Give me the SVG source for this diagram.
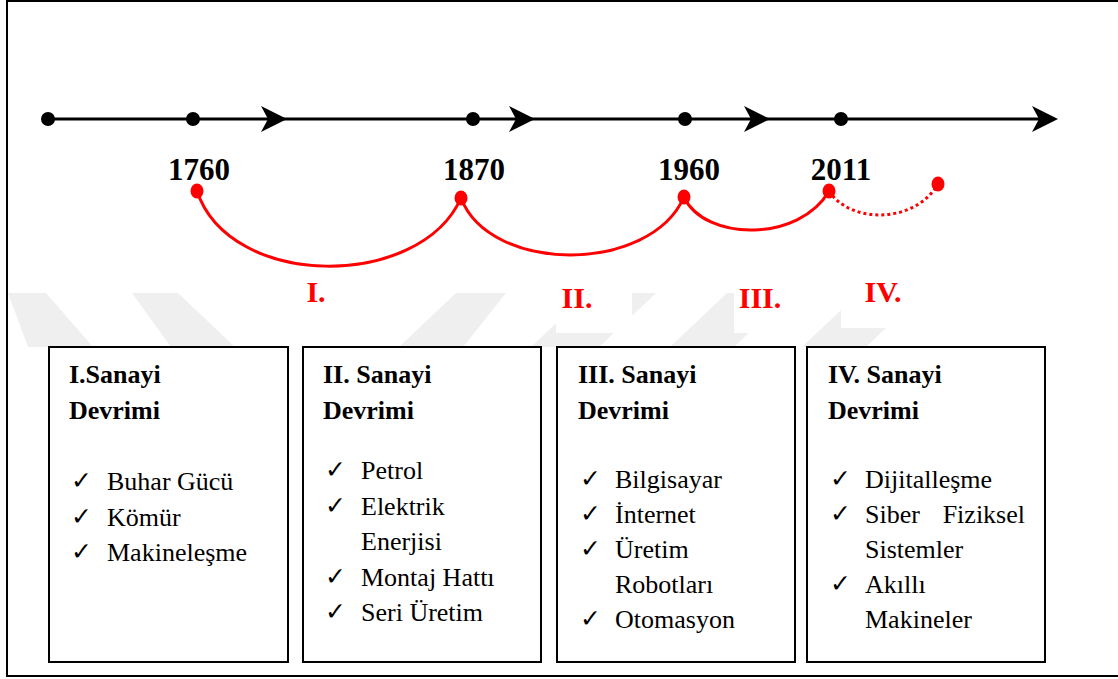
<svg xmlns="http://www.w3.org/2000/svg" width="1118" height="679" viewBox="0 0 1118 679">
<style>
.frame{fill:none;stroke:#000;stroke-width:2}
.wm{fill:#efefef}
.bg{fill:#fff}
.box{fill:#fff;stroke:#000;stroke-width:2}
.axis{stroke:#000;stroke-width:3;fill:none}
.dot{fill:#000}
.arrow{fill:#000}
.rdot{fill:#ff0000}
.arc{fill:none;stroke:#ff0000;stroke-width:3}
.dotted{stroke-dasharray:3 3}
.year{font-weight:bold;font-size:31px;fill:#000;text-anchor:middle}
.roman{font-weight:bold;font-size:30px;fill:#ff0000;text-anchor:middle}
.title{font-weight:bold;font-size:26px;fill:#000}
.item{font-size:26px;fill:#000}
.chk{font-size:25px;fill:#000}
</style>
<g id="watermark">
<polygon class="wm" points="8,293 46,293 93,347 28,347"/>
<polygon class="wm" points="132,293 178,293 235,347 171,347"/>
<polygon class="wm" points="399,347 463,347 506,293 456,293"/>
<polygon class="wm" points="531,347 599,347 656,293 588,293"/>
<polygon class="wm" points="670,347 734,347 791,293 727,293"/>
<polygon class="wm" points="802,347 866,347 923,293 859,293"/>
<rect class="bg" x="556" y="280" width="76" height="53"/>
<rect class="bg" x="734" y="280" width="56" height="53"/>
<rect class="bg" x="841" y="270" width="84" height="58"/>
</g>
<rect class="frame" x="7" y="1" width="1120" height="675"/>
<g font-family="'Liberation Serif','Times New Roman',Tinos,'DejaVu Serif',serif">
<g id="timeline">
<line class="axis" x1="48" y1="119" x2="1050" y2="119"/>
<circle class="dot" cx="48" cy="119" r="7"/>
<circle class="dot" cx="193" cy="119" r="7"/>
<circle class="dot" cx="473" cy="119" r="7"/>
<circle class="dot" cx="685" cy="119" r="7"/>
<circle class="dot" cx="841" cy="119" r="7"/>
<path class="arrow" d="M287,119 L261,106 L268,119 L261,132 Z"/>
<path class="arrow" d="M535,119 L509,106 L516,119 L509,132 Z"/>
<path class="arrow" d="M770,119 L744,106 L751,119 L744,132 Z"/>
<path class="arrow" d="M1058,119 L1032,106 L1039,119 L1032,132 Z"/>
<text class="year" x="199" y="180">1760</text>
<text class="year" x="474" y="180">1870</text>
<text class="year" x="689" y="180">1960</text>
<text class="year" x="841" y="180">2011</text>
</g>
<g id="connectors">
<path class="arc" d="M197,191 C230,290 420,290 461,198"/>
<path class="arc" d="M461,198 C490,274 650,274 684,197"/>
<path class="arc" d="M684,197 C705,242 800,242 829,191"/>
<path class="arc dotted" d="M829,191 C850,224 915,224 938,184"/>
<ellipse class="rdot" cx="197" cy="191" rx="6.5" ry="7.5"/>
<ellipse class="rdot" cx="461" cy="198" rx="6.5" ry="7.5"/>
<ellipse class="rdot" cx="684" cy="197" rx="6.5" ry="7.5"/>
<ellipse class="rdot" cx="829" cy="191" rx="6.5" ry="7.5"/>
<ellipse class="rdot" cx="938" cy="184" rx="6.5" ry="7.5"/>
<text class="roman" x="316" y="302">I.</text>
<text class="roman" x="577" y="308">II.</text>
<text class="roman" x="760" y="308">III.</text>
<text class="roman" x="883" y="302">IV.</text>
</g>
<g id="box1">
<rect class="box" x="49" y="347" width="239" height="315"/>
<text class="title" x="69" y="383">I.Sanayi</text>
<text class="title" x="69" y="419">Devrimi</text>
<text class="chk" x="71" y="489" font-family="'DejaVu Sans',sans-serif">✓</text><text class="item" x="107" y="490">Buhar Gücü</text>
<text class="chk" x="71" y="525" font-family="'DejaVu Sans',sans-serif">✓</text><text class="item" x="107" y="526">Kömür</text>
<text class="chk" x="71" y="560" font-family="'DejaVu Sans',sans-serif">✓</text><text class="item" x="107" y="561">Makineleşme</text>
</g>
<g id="box2">
<rect class="box" x="303" y="347" width="238" height="315"/>
<text class="title" x="323" y="383">II. Sanayi</text>
<text class="title" x="323" y="419">Devrimi</text>
<text class="chk" x="325" y="478" font-family="'DejaVu Sans',sans-serif">✓</text><text class="item" x="361" y="479">Petrol</text>
<text class="chk" x="325" y="514" font-family="'DejaVu Sans',sans-serif">✓</text><text class="item" x="361" y="515">Elektrik</text>
<text class="item" x="361" y="550">Enerjisi</text>
<text class="chk" x="325" y="585" font-family="'DejaVu Sans',sans-serif">✓</text><text class="item" x="361" y="586">Montaj Hattı</text>
<text class="chk" x="325" y="620" font-family="'DejaVu Sans',sans-serif">✓</text><text class="item" x="361" y="621">Seri Üretim</text>
</g>
<g id="box3">
<rect class="box" x="557" y="347" width="238" height="315"/>
<text class="title" x="578" y="383">III. Sanayi</text>
<text class="title" x="578" y="419">Devrimi</text>
<text class="chk" x="580" y="487" font-family="'DejaVu Sans',sans-serif">✓</text><text class="item" x="615" y="488">Bilgisayar</text>
<text class="chk" x="580" y="522" font-family="'DejaVu Sans',sans-serif">✓</text><text class="item" x="615" y="523">İnternet</text>
<text class="chk" x="580" y="557" font-family="'DejaVu Sans',sans-serif">✓</text><text class="item" x="615" y="558">Üretim</text>
<text class="item" x="615" y="593">Robotları</text>
<text class="chk" x="580" y="627" font-family="'DejaVu Sans',sans-serif">✓</text><text class="item" x="615" y="628">Otomasyon</text>
</g>
<g id="box4">
<rect class="box" x="807" y="347" width="238" height="315"/>
<text class="title" x="828" y="383">IV. Sanayi</text>
<text class="title" x="828" y="419">Devrimi</text>
<text class="chk" x="830" y="487" font-family="'DejaVu Sans',sans-serif">✓</text><text class="item" x="865" y="488">Dijitalleşme</text>
<text class="chk" x="830" y="522" font-family="'DejaVu Sans',sans-serif">✓</text><text class="item" x="865" y="523">Siber</text><text class="item" x="1025" y="523" text-anchor="end">Fiziksel</text>
<text class="item" x="865" y="558">Sistemler</text>
<text class="chk" x="830" y="592" font-family="'DejaVu Sans',sans-serif">✓</text><text class="item" x="865" y="593">Akıllı</text>
<text class="item" x="865" y="628">Makineler</text>
</g>
</g>
</svg>
